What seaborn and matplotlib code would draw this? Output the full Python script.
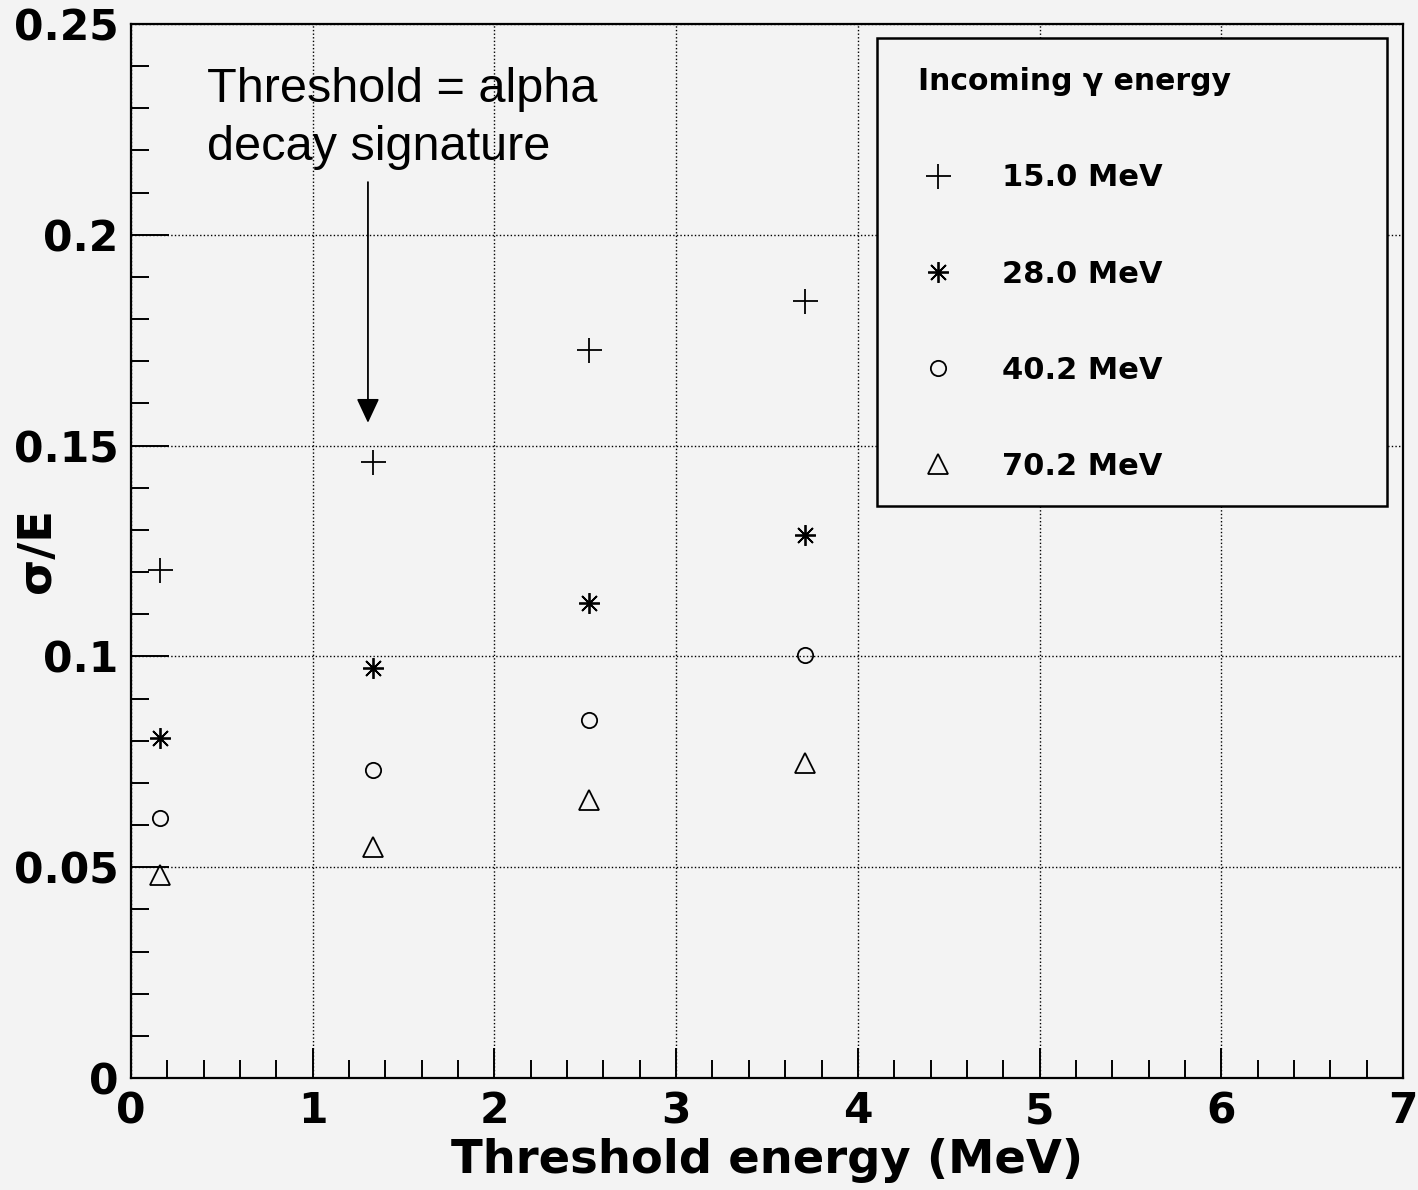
import matplotlib
matplotlib.use("Agg")
import matplotlib.pyplot as plt
from matplotlib.patches import Rectangle
from matplotlib.ticker import MultipleLocator, FixedLocator, FixedFormatter
import seaborn as sns
import pandas as pd

# ---- data ----
thresholds = [0.16, 1.33, 2.52, 3.71]
sigma_15_0 = [0.1204, 0.1461, 0.1726, 0.1844]
sigma_28_0 = [0.0806, 0.0972, 0.1126, 0.1287]
sigma_40_2 = [0.0616, 0.0730, 0.0849, 0.1003]
sigma_70_2 = [0.0481, 0.0548, 0.0659, 0.0747]
series_labels = ["15.0 MeV", "28.0 MeV", "40.2 MeV", "70.2 MeV"]
x_ticks = [0, 1, 2, 3, 4, 5, 6, 7]
x_tick_labels = ["0", "1", "2", "3", "4", "5", "6", "7"]
y_ticks = [0, 0.05, 0.10, 0.15, 0.20, 0.25]
y_tick_labels = ["0", "0.05", "0.1", "0.15", "0.2", "0.25"]

BG = "#f3f3f3"
sns.set_style("ticks")
plt.rcParams["font.family"] = ["DejaVu Sans"]
plt.rcParams["font.weight"] = "bold"
plt.rcParams["text.color"] = "black"
plt.rcParams["axes.labelcolor"] = "black"
plt.rcParams["xtick.color"] = "black"
plt.rcParams["ytick.color"] = "black"
plt.rcParams["xtick.labelcolor"] = "black"
plt.rcParams["ytick.labelcolor"] = "black"

fig = plt.figure(figsize=(14.18, 11.9), dpi=100, facecolor=BG)
ax = fig.add_axes([0.09238, 0.09412, 0.89704, 0.88571])
ax.set_facecolor(BG)

styles = [
    dict(marker="+", markersize=18, markerfacecolor="none"),
    dict(marker=(8, 2, 0), markersize=15, markerfacecolor="none"),
    dict(marker="o", markersize=11, markerfacecolor="none"),
    dict(marker="^", markersize=14, markerfacecolor="none"),
]
all_series = [sigma_15_0, sigma_28_0, sigma_40_2, sigma_70_2]
for vals, lab, st in zip(all_series, series_labels, styles):
    df = pd.DataFrame({"threshold": thresholds, "sigma": vals})
    sns.lineplot(data=df, x="threshold", y="sigma", ax=ax, linestyle="",
                 color="black", markeredgecolor="black", markeredgewidth=1.3,
                 label=lab, zorder=6, **st)

ax.set_xlim(0, 7)
ax.set_ylim(0, 0.25)
ax.xaxis.set_major_locator(FixedLocator(x_ticks))
ax.xaxis.set_major_formatter(FixedFormatter(x_tick_labels))
ax.yaxis.set_major_locator(FixedLocator(y_ticks))
ax.yaxis.set_major_formatter(FixedFormatter(y_tick_labels))
ax.xaxis.set_minor_locator(MultipleLocator(0.2))
ax.yaxis.set_minor_locator(MultipleLocator(0.01))

ax.tick_params(which="both", direction="in", color="black", width=1.4,
               labelcolor="black")
ax.tick_params(axis="x", which="major", length=21.5, pad=9, labelsize=30.5)
ax.tick_params(axis="x", which="minor", length=13)
ax.tick_params(axis="y", which="major", length=27, pad=9, labelsize=30.5)
ax.tick_params(axis="y", which="minor", length=13)
for lab in ax.get_xticklabels() + ax.get_yticklabels():
    lab.set_fontweight("bold")

for sp in ax.spines.values():
    sp.set_visible(True)
    sp.set_color("black")
    sp.set_linewidth(1.6)

ax.grid(True, which="major", color="black", linestyle=(0, (1, 1.6)), linewidth=1.0)
ax.set_axisbelow(True)

ax.set_xlabel("Threshold energy (MeV)", fontsize=33.5, fontweight="bold",
              labelpad=4, color="black")
ax.set_ylabel("\u03c3/E", fontsize=33.5, fontweight="bold", color="black")
ax.yaxis.set_label_coords(-0.056, 0.5)

# annotation
ax.text(0.418, 0.2315, "Threshold = alpha", fontsize=35, fontweight="normal",
        family=["Liberation Sans"], va="baseline", ha="left", zorder=7,
        color="black")
ax.text(0.418, 0.2177, "decay signature", fontsize=35, fontweight="normal",
        family=["Liberation Sans"], va="baseline", ha="left", zorder=7,
        color="black")
ax.annotate("", xy=(1.304, 0.1554), xytext=(1.304, 0.2125),
            arrowprops=dict(arrowstyle="-|>,head_length=0.75,head_width=0.35",
                            color="black", lw=1.3, shrinkA=0, shrinkB=0,
                            mutation_scale=20), zorder=7)

# legend box
box = Rectangle((0.5865, 0.5427), 0.4009, 0.4440, transform=ax.transAxes,
                facecolor=BG, edgecolor="black", linewidth=1.8, zorder=4)
ax.add_patch(box)
handles, labels = ax.get_legend_handles_labels()
leg = ax.legend(handles, labels, loc="upper left", bbox_to_anchor=(0.6187, 0.9590),
                borderaxespad=0, borderpad=0, frameon=False,
                title="Incoming \u03b3 energy", alignment="left",
                prop=dict(size=22, weight="bold"),
                title_fontproperties=dict(size=21.5, weight="bold"),
                labelspacing=2.2, handlelength=1.3, handletextpad=1.44,
                labelcolor="black")
leg.get_title().set_color("black")
leg.set_zorder(8)

fig.savefig("out.png", dpi=100, facecolor=BG)
